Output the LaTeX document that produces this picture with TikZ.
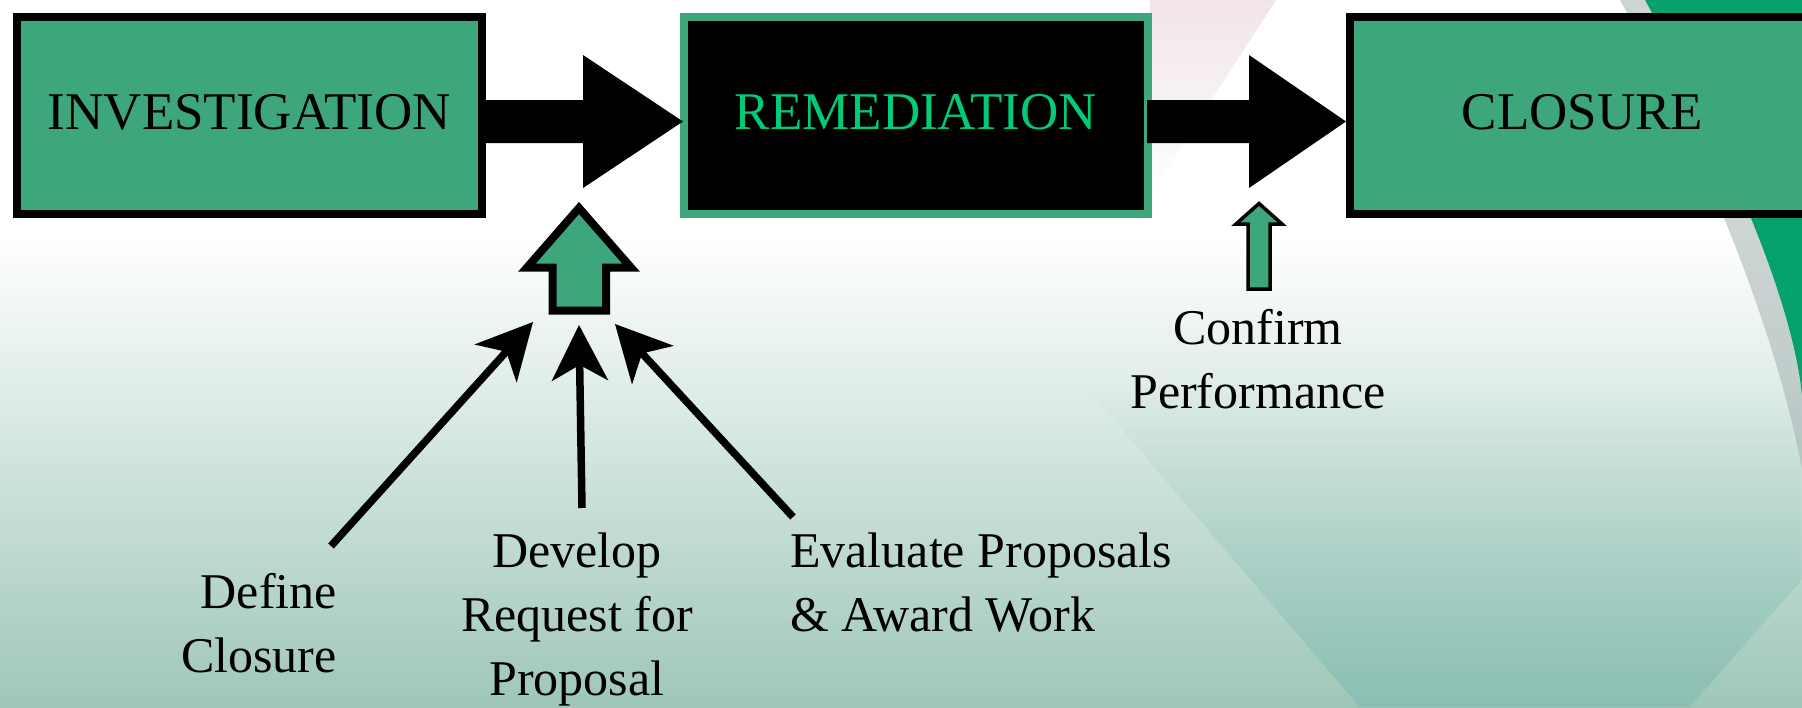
\documentclass[tikz,border=0pt]{standalone}
\usepackage{fontspec}
\setmainfont{Liberation Serif}
\usetikzlibrary{arrows.meta,fadings}
\definecolor{boxgreen}{RGB}{61,167,123}
\definecolor{remtext}{RGB}{0,204,120}
\definecolor{swoosh}{RGB}{4,160,110}
\definecolor{bgbot}{RGB}{158,199,183}
\definecolor{bgmid}{RGB}{216,232,225}
\definecolor{tealdeep}{RGB}{112,180,176}
\definecolor{pinkish}{RGB}{236,218,226}
\definecolor{shadowgray}{RGB}{165,178,178}
\begin{document}
\begin{tikzpicture}[x=1pt,y=-1pt,
  stage/.style={rectangle, line width=8pt, minimum width=465pt, minimum height=197pt,
    inner sep=0pt, font=\fontsize{53}{60}\selectfont, text depth=6pt},
  lbl/.style={inner sep=0pt, font=\fontsize{50}{64}\selectfont},
  blockarrow/.style={fill=black},
  uparrow/.style={fill=boxgreen, draw=black, miter limit=20},
  pointer/.style={line width=7.5pt, -{Stealth[length=56pt, width=57pt, inset=16pt, line width=0pt]}}]
% ---------- background ----------
\clip (0,0) rectangle (1802,707);
\fill[white] (0,0) rectangle (1802,707);
\shade[top color=white, middle color=bgmid, bottom color=bgbot] (0,235) rectangle (1802,707);
\fill[tealdeep, opacity=0.4, path fading=north] (1080,380) -- (1802,380) -- (1802,580) -- (1690,707) -- (1360,707) -- cycle;
\fill[pinkish, opacity=0.7, path fading=south] (1150,0) -- (1276,0) -- (1150,195) -- cycle;
\fill[shadowgray, opacity=0.55] (1620,0) -- (1645,0) .. controls (1705,110) and (1790,280) .. (1802,395) -- (1802,470) .. controls (1775,320) and (1690,125) .. cycle;
\fill[swoosh] (1645,0) -- (1802,0) -- (1802,395) .. controls (1790,280) and (1705,110) .. (1645,0) -- cycle;
% ---------- stage boxes ----------
\node[stage, fill=boxgreen, draw=black] (inv) at (249.5,115.4) {INVESTIGATION};
\node[stage, fill=black, draw=boxgreen, text=remtext, minimum width=463.7pt] (rem) at (915.9,115.4) {REMEDIATION};
\node[stage, fill=boxgreen, draw=black] (clo) at (1582.5,115.4) {CLOSURE};
% ---------- block arrows between stages ----------
\fill[blockarrow] (482,100) -- (583,100) -- (583,55) -- (683,121.5) -- (583,188) -- (583,143) -- (482,143) -- cycle;
\fill[blockarrow] (1147,100) -- (1249,100) -- (1249,55) -- (1346,121.5) -- (1249,188) -- (1249,143) -- (1147,143) -- cycle;
% ---------- green up arrows ----------
\draw[uparrow, line width=8pt] (552.5,310.5) -- (606,310.5) -- (606,267.5) -- (631,267.5) -- (579,208) -- (527,267.5) -- (552.5,267.5) -- cycle;
\draw[uparrow, line width=3.5pt] (1248,289) -- (1270,289) -- (1270,224) -- (1282,224) -- (1259,203.5) -- (1236,224) -- (1248,224) -- cycle;
% ---------- labels ----------
\node[lbl, align=right, anchor=north east] (def) at (337,573) {Define\\Closure};
\node[lbl, align=center, anchor=north] (dev) at (577,533) {Develop\\Request for\\Proposal};
\node[lbl, align=left, anchor=north west] (eva) at (790,533) {Evaluate Proposals\\\& Award Work};
\node[lbl, align=center, anchor=north] (conf) at (1258,309) {Confirm\\Performance};
% ---------- pointer arrows ----------
\coordinate (defs) at (331,546);
\coordinate (deft) at (533,322);
\coordinate (devs) at (582,508);
\coordinate (devt) at (579,325);
\coordinate (evas) at (793,517);
\coordinate (evat) at (615,324);
\draw[pointer] (defs) -- (deft);
\draw[pointer] (devs) -- (devt);
\draw[pointer] (evas) -- (evat);
\end{tikzpicture}
\end{document}
